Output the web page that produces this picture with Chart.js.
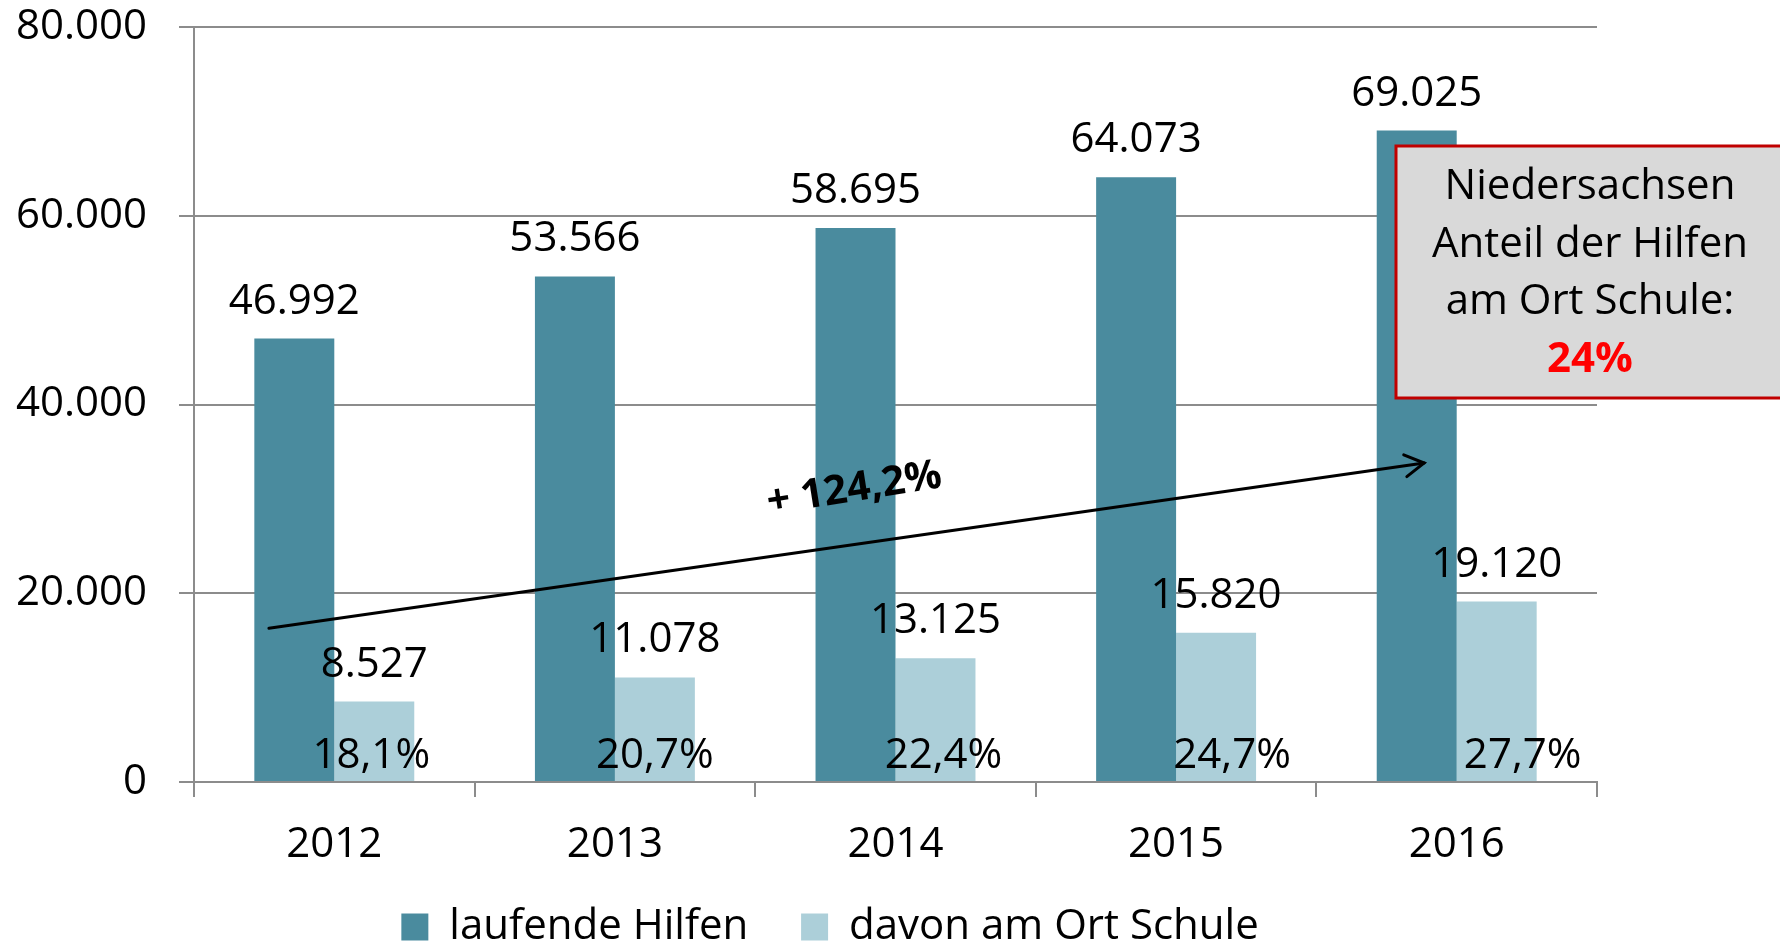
<!DOCTYPE html>
<html><head><meta charset="utf-8">
<script src="https://cdn.jsdelivr.net/npm/chart.js@4/dist/chart.umd.min.js"></script>
<style>html,body{margin:0;padding:0;background:#fff;overflow:hidden} #wrap{width:1780px;height:942px;position:relative}</style>
</head><body><div id="wrap"><canvas id="c" width="1780" height="942"></canvas></div>
<script>
const years = ['2012', '2013', '2014', '2015', '2016'];
const laufendeHilfen = [46992, 53566, 58695, 64073, 69025];
const amOrtSchule = [8527, 11078, 13125, 15820, 19120];
const anteilLabels = ['18,1%', '20,7%', '22,4%', '24,7%', '27,7%'];
const seriesNames = ['laufende Hilfen', 'davon am Ort Schule'];
const yTicks = [0, 20000, 40000, 60000, 80000];
const growthLabel = '+ 124,2%';
const boxLines = ['Niedersachsen', 'Anteil der Hilfen', 'am Ort Schule:'];
const boxHighlight = '24%';

const FONT = '"Open Sans", "Noto Sans", sans-serif';
const fmt = n => String(n).replace(/\B(?=(\d{3})+(?!\d))/g, '.');

const annot = {
  id: 'annot',
  afterDatasetsDraw(chart) {
    const ctx = chart.ctx, xs = chart.scales.x, ys = chart.scales.y;
    ctx.save();
    ctx.fillStyle = '#000';
    ctx.font = '42px ' + FONT;
    ctx.textAlign = 'center';
    ctx.textBaseline = 'alphabetic';
    [0, 1].forEach(di => {
      chart.getDatasetMeta(di).data.forEach((bar, i) => {
        ctx.fillText(fmt(chart.data.datasets[di].data[i]), bar.x, bar.y - 25);
      });
    });
    const base = ys.getPixelForValue(0);
    const nudge = [-3, 0, 8, 16, 26];
    chart.getDatasetMeta(1).data.forEach((bar, i) => {
      ctx.fillText(anteilLabels[i], bar.x + nudge[i], base - 14);
    });

    // growth arrow (in data space)
    const px = v => { const p0 = xs.getPixelForValue(0), p1 = xs.getPixelForValue(1); return p0 + (p1 - p0) * v; };
    const x1 = px(-0.233), y1 = ys.getPixelForValue(16300);
    const x2 = px(3.884), y2 = ys.getPixelForValue(33800);
    ctx.strokeStyle = '#000';
    ctx.lineWidth = 3;
    ctx.lineCap = 'round';
    ctx.beginPath(); ctx.moveTo(x1, y1); ctx.lineTo(x2, y2); ctx.stroke();
    const ang = Math.atan2(y2 - y1, x2 - x1), hl = 22, ha = Math.PI / 6;
    ctx.beginPath();
    ctx.moveTo(x2 - hl * Math.cos(ang - ha), y2 - hl * Math.sin(ang - ha));
    ctx.lineTo(x2, y2);
    ctx.lineTo(x2 - hl * Math.cos(ang + ha), y2 - hl * Math.sin(ang + ha));
    ctx.stroke();

    // growth label
    ctx.save();
    ctx.translate(854, 487);
    ctx.rotate(-9 * Math.PI / 180);
    ctx.font = 'bold 41px ' + FONT;
    ctx.textAlign = 'center';
    ctx.fillText(growthLabel, 0, 14);
    ctx.restore();

    // info box
    const bx = 1396, by = 146, bw = 420, bh = 252;
    ctx.fillStyle = '#d9d9d9';
    ctx.fillRect(bx, by, bw, bh);
    ctx.strokeStyle = '#c00000';
    ctx.lineWidth = 3;
    ctx.strokeRect(bx, by, bw, bh);
    ctx.fillStyle = '#000';
    ctx.font = '42px ' + FONT;
    ctx.textAlign = 'center';
    const cx = 1590;
    boxLines.forEach((t, i) => ctx.fillText(t, cx, 199 + i * 57.5));
    ctx.fillStyle = '#ff0000';
    ctx.font = 'bold 42px ' + FONT;
    ctx.fillText(boxHighlight, cx, 199 + 3 * 57.5);
    ctx.restore();
  }
};

new Chart(document.getElementById('c'), {
  type: 'bar',
  data: {
    labels: years,
    datasets: [
      { label: seriesNames[0], data: laufendeHilfen, backgroundColor: '#4a8b9e', categoryPercentage: 0.57, barPercentage: 1.0 },
      { label: seriesNames[1], data: amOrtSchule, backgroundColor: '#accfd9', categoryPercentage: 0.57, barPercentage: 1.0 }
    ]
  },
  options: {
    responsive: false,
    devicePixelRatio: 1,
    animation: false,
    layout: { padding: { top: 27, left: 0, right: 183, bottom: -16 } },
    plugins: {
      legend: {
        position: 'bottom',
        fullSize: false,
        labels: {
          boxWidth: 27, boxHeight: 27, padding: 20, color: '#000',
          font: { family: FONT, size: 42 },
          generateLabels: chart => {
            const items = Chart.defaults.plugins.legend.labels.generateLabels(chart);
            items[0].text = items[0].text + '   ';
            items[1].text = items[1].text + '            ';
            return items;
          }
        }
      },
      tooltip: { enabled: false }
    },
    scales: {
      x: {
        afterFit: s => { s.height = 104; },
        grid: { display: true, offset: true, drawOnChartArea: false, drawTicks: true, tickLength: 15, color: '#8c8c8c', lineWidth: 2 },
        border: { display: true, color: '#8c8c8c', width: 2 },
        ticks: { color: '#000', font: { family: FONT, size: 42 }, padding: 23, maxRotation: 0 }
      },
      y: {
        min: 0, max: 80000,
        afterFit: s => { s.width = 194; s.paddingTop = 0; s.paddingBottom = 0; },
        afterBuildTicks: s => { s.ticks = yTicks.map(v => ({ value: v })); },
        grid: { color: '#8c8c8c', lineWidth: 2, tickLength: 15, drawTicks: true },
        border: { display: true, color: '#8c8c8c', width: 2 },
        ticks: { color: '#000', font: { family: FONT, size: 42 }, padding: 32, callback: v => fmt(v) }
      }
    }
  },
  plugins: [annot]
});
</script></body></html>
